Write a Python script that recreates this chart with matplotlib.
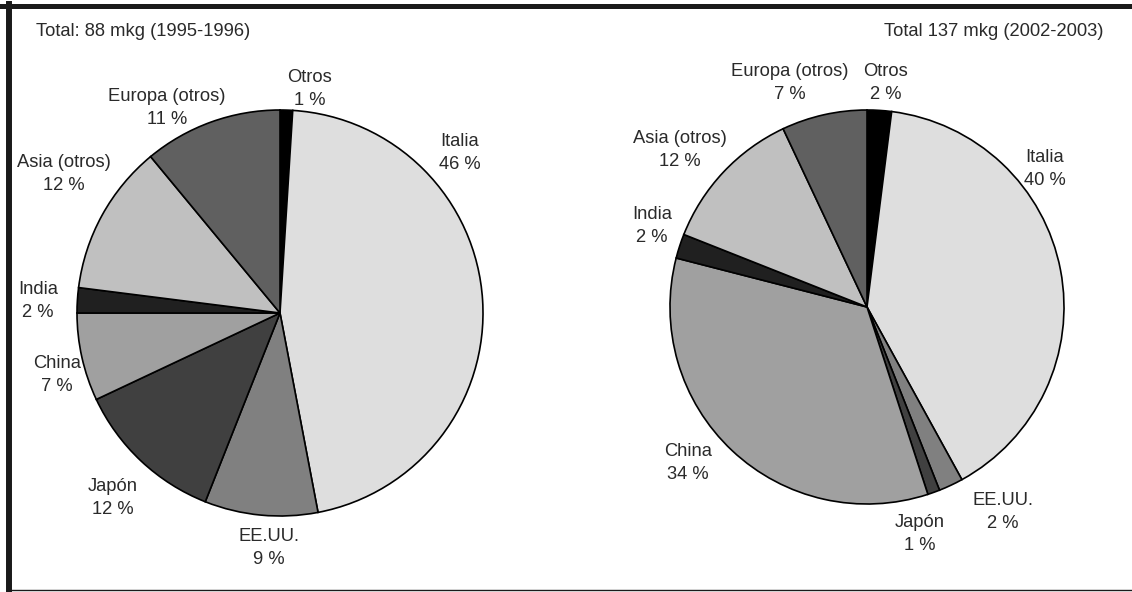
import matplotlib
matplotlib.use('Agg')
import matplotlib.pyplot as plt
from matplotlib.lines import Line2D

plt.rcParams['font.family'] = ['Liberation Sans', 'DejaVu Sans']

# regiones, en orden horario desde las 12
REGIONS = ['Otros', 'Italia', 'EE.UU.', 'Japón', 'China', 'India',
           'Asia (otros)', 'Europa (otros)']
SHARE_9596 = [1, 46, 9, 12, 7, 2, 12, 11]
SHARE_0203 = [2, 40, 2, 1, 34, 2, 12, 7]
TITLE_9596 = 'Total: 88 mkg (1995-1996)'
TITLE_0203 = 'Total 137 mkg (2002-2003)'

COLORS = ['#000000', '#dedede', '#808080', '#404040', '#a0a0a0',
          '#202020', '#c0c0c0', '#606060']

W, H = 1132, 592
TXT = '#2a2a2a'
FS = 13.2

# posiciones de las etiquetas (pixeles, y hacia abajo)
POS_9596 = [(310, 89), (460, 153), (269, 548), (113, 498), (57, 375),
            (38, 301), (64, 174), (167, 108)]
POS_0203 = [(886, 83), (1045, 169), (1003, 512), (920, 534), (688, 463),
            (652, 226), (680, 150), (790, 83)]

fig = plt.figure(figsize=(W / 100, H / 100), dpi=100)
ax = fig.add_axes([0, 0, 1, 1])

wp = dict(edgecolor='black', linewidth=1.2)
ax.pie(SHARE_9596, colors=COLORS, startangle=90, counterclock=False,
       center=(280, H - 313), radius=203, wedgeprops=wp)
ax.pie(SHARE_0203, colors=COLORS, startangle=90, counterclock=False,
       center=(867, H - 307), radius=197, wedgeprops=wp)

ax.set_xlim(0, W)
ax.set_ylim(0, H)
ax.set_aspect('equal')
ax.axis('off')

for vals, pos in [(SHARE_9596, POS_9596), (SHARE_0203, POS_0203)]:
    for name, v, (x, y) in zip(REGIONS, vals, pos):
        ax.text(x, H - y, f'{name}\n{v} %', ha='center', va='center',
                fontsize=FS, color=TXT, linespacing=1.4)

ax.text(36, H - 32, TITLE_9596, ha='left', va='center', fontsize=FS, color=TXT)
ax.text(1103, H - 32, TITLE_0203, ha='right', va='center', fontsize=FS, color=TXT)

# marco
fig.add_artist(Line2D([0, W], [H - 5.5, H - 5.5], transform=None, color='#1a1a1a', lw=3.6))
fig.add_artist(Line2D([9, 9], [0, H - 4], transform=None, color='#1a1a1a', lw=4.3))
fig.add_artist(Line2D([9, W], [2, 2], transform=None, color='#1a1a1a', lw=1.0))

fig.savefig('out.png', dpi=100)
